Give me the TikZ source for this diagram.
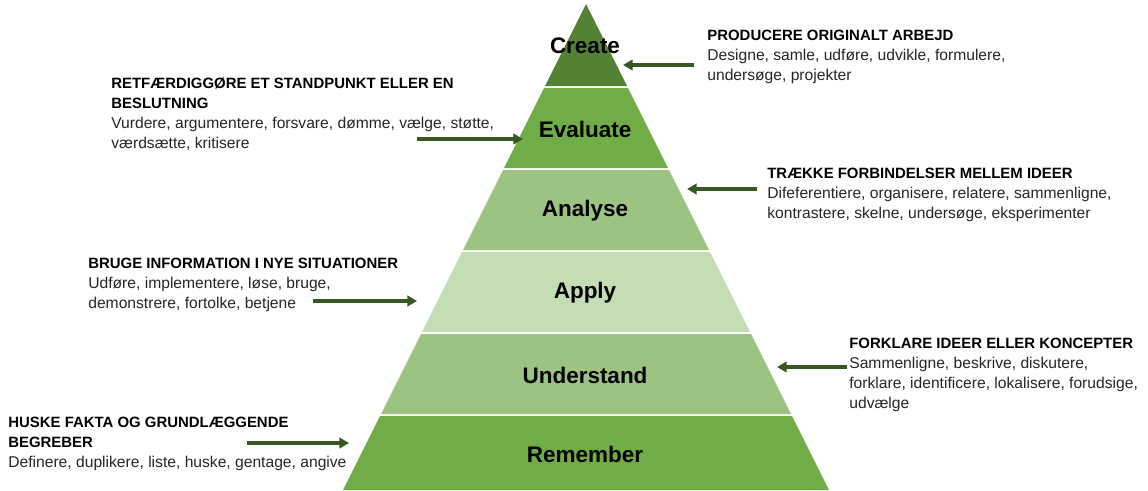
\documentclass[tikz,border=0pt]{standalone}
\usepackage{fontspec}
\setmainfont{Liberation Sans}
\usetikzlibrary{arrows.meta}

\definecolor{createcol}{HTML}{548235}
\definecolor{evalcol}{HTML}{70AD47}
\definecolor{midcol}{HTML}{9DC383}
\definecolor{applycol}{HTML}{C5DDB4}
\definecolor{arrowcol}{HTML}{385723}
\definecolor{bodytext}{HTML}{262626}

\newcommand{\levelhead}[1]{{\color{black}\bfseries\fontsize{8.5}{11.4}\selectfont #1}}

\begin{document}
\begin{tikzpicture}[x=0.02cm,y=-0.02cm]
    \tikzset{level/.style = {font=\fontsize{12.8}{15}\selectfont\bfseries, inner sep=0pt}}
    \tikzset{info/.style = {anchor=north west, align=left, inner sep=0pt, text=bodytext,
        font=\fontsize{8.9}{11.4}\selectfont}}
    \tikzset{pointer/.style = {arrowcol, line width=1.8pt, -{Triangle[length=5.5pt,width=6pt]}}}
    \useasboundingbox (0,0) rectangle (1148,490);

    % pyramid levels
    \foreach \ya/\yb/\col/\name/\lbl in {4/86/createcol/create/Create,
        88/168/evalcol/evaluate/Evaluate, 170/250/midcol/analyse/Analyse,
        252/332/applycol/apply/Apply, 334/414/midcol/understand/Understand,
        416/490/evalcol/remember/Remember}
    {
        \fill[\col] ({586-0.5*(\ya-4)},\ya) -- ({586+0.5*(\ya-4)},\ya)
            -- ({586+0.5*(\yb-4)},\yb) -- ({586-0.5*(\yb-4)},\yb) -- cycle;
        \node[level] (\name) at (585,{(\ya+\yb)/2+1}) {\lbl};
    }

    % descriptions
    \node[info] (produce) at (707,30) {\levelhead{PRODUCERE ORIGINALT ARBEJD}\\
        Designe, samle, udføre, udvikle, formulere,\\undersøge, projekter};
    \node[info] (justify) at (111,77) {\levelhead{RETFÆRDIGGØRE ET STANDPUNKT ELLER EN}\\
        \levelhead{BESLUTNING}\\
        Vurdere, argumentere, forsvare, dømme, vælge, støtte,\\værdsætte, kritisere};
    \node[info] (connect) at (767,168) {\levelhead{TRÆKKE FORBINDELSER MELLEM IDEER}\\
        Difeferentiere, organisere, relatere, sammenligne,\\
        kontrastere, skelne, undersøge, eksperimenter};
    \node[info] (use) at (88,258) {\levelhead{BRUGE INFORMATION I NYE SITUATIONER}\\
        Udføre, implementere, løse, bruge,\\demonstrere, fortolke, betjene};
    \node[info] (explain) at (849,338) {\levelhead{FORKLARE IDEER ELLER KONCEPTER}\\
        Sammenligne, beskrive, diskutere,\\
        forklare, identificere, lokalisere, forudsige,\\udvælge};
    \node[info] (recall) at (8,417) {\levelhead{HUSKE FAKTA OG GRUNDLÆGGENDE}\\
        \levelhead{BEGREBER}\\
        Definere, duplikere, liste, huske, gentage, angive};

    % pointers
    \coordinate (produce-tail) at (694,65);
    \coordinate (produce-tip) at (623,65);
    \coordinate (justify-tail) at (417,139);
    \coordinate (justify-tip) at (523,139);
    \coordinate (connect-tail) at (757,189);
    \coordinate (connect-tip) at (687,189);
    \coordinate (use-tail) at (313,301);
    \coordinate (use-tip) at (417,301);
    \coordinate (explain-tail) at (847,367);
    \coordinate (explain-tip) at (777,367);
    \coordinate (recall-tail) at (247,443);
    \coordinate (recall-tip) at (349,443);
    \foreach \n in {produce, justify, connect, use, explain, recall}
        \draw[pointer] (\n-tail) -- (\n-tip);
\end{tikzpicture}
\end{document}
